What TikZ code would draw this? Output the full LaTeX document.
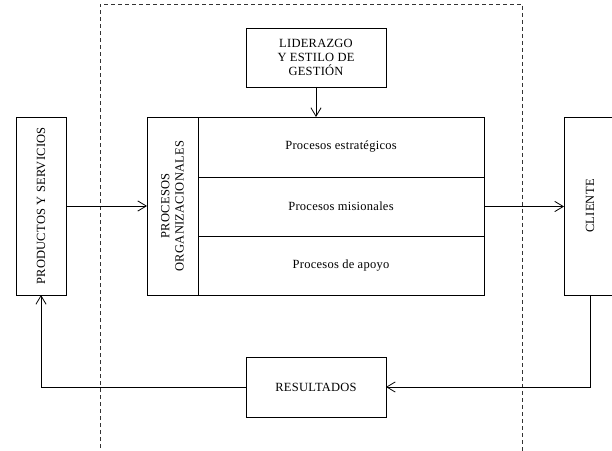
\documentclass[tikz,border=0pt]{standalone}
\usepackage{fontspec}
\setmainfont{Liberation Serif}[LetterSpace=2]
\usepackage{tikz}
\usetikzlibrary{positioning,arrows.meta}

\tikzset{
  blk/.style={draw,line width=0.8pt,inner sep=0pt,outer sep=0pt,align=center},
  flow/.style={line width=0.8pt,-{Straight Barb[length=3mm,width=3.6mm]}}
}

\begin{document}
\begin{tikzpicture}[x=1pt,y=1pt,font=\fontsize{12.5}{14.2}\selectfont]
\useasboundingbox (0,0) rectangle (612,450);
\clip (0,0) rectangle (612,450);
% frame of the organisation
\draw[dash pattern=on 4pt off 3pt,line width=0.8pt,black!80] (100,-5) -- (100,446) -- (522,446) -- (522,-5);

\node[blk,minimum width=140,minimum height=59] (lid) at (316,392.5) {LIDERAZGO\\Y ESTILO DE\\GESTIÓN};
\node[blk,minimum width=50,minimum height=178] (prod) at (41,244) {};
\node[rotate=90] at (prod) {PRODUCTOS Y SERVICIOS};
\node[blk,minimum width=51,minimum height=178] (porg) at (172.5,244) {};
\node[rotate=90,align=center] at (porg) {PROCESOS\\ORGANIZACIONALES};
\node[blk,minimum width=286,minimum height=60] (est) at (341,303) {Procesos estratégicos};
\node[blk,minimum width=286,minimum height=59,below=0pt of est] (mis) {Procesos misionales};
\node[blk,minimum width=286,minimum height=59,below=0pt of mis] (apo) {Procesos de apoyo};
\node[blk,minimum width=52,minimum height=178] (cli) at (590,244) {};
\node[rotate=90] at (cli) {CLIENTE};
\node[blk,minimum width=140,minimum height=60] (res) at (316,63) {RESULTADOS};

\draw[flow] (lid.south) -- (lid.south |- est.north);
\draw[flow] (prod.east) -- (porg.west);
\draw[flow] (mis.east) -- (cli.west |- mis.east);
\draw[flow] (cli.south) |- (res.east);
\draw[flow] (res.west) -| (prod.south);
\end{tikzpicture}
\end{document}
